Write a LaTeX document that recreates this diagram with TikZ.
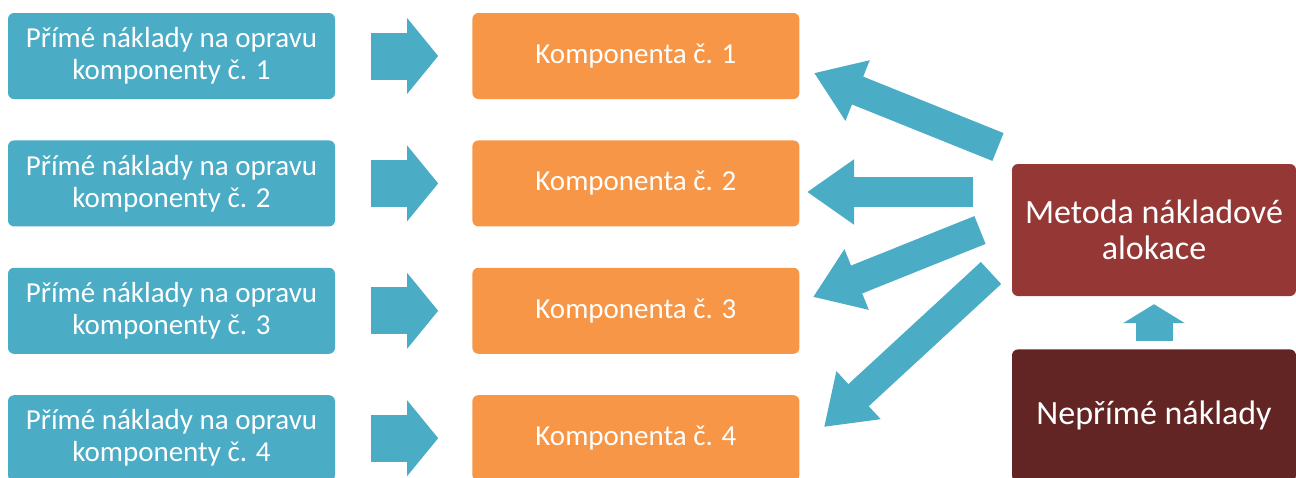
\documentclass[tikz,border=0pt]{standalone}
\usepackage{fontspec}
\setmainfont{Carlito}
\usetikzlibrary{arrows.meta, positioning}

\definecolor{costblue}{HTML}{4BACC6}
\definecolor{comporange}{HTML}{F79646}
\definecolor{methodred}{HTML}{953735}
\definecolor{indirectred}{HTML}{632523}

\begin{document}
\begin{tikzpicture}[
    x=1pt, y=-1pt,
    node distance=41pt and 137pt,
    font=\fontsize{29}{32}\selectfont,
    box/.style={rectangle, rounded corners=6pt, fill=costblue, text=white, minimum width=327pt, minimum height=86pt, text centered, align=center, inner sep=0pt},
    comp_box/.style={box, fill=comporange},
    method_box/.style={box, minimum width=284pt, minimum height=132pt, font=\fontsize{34}{36}\selectfont},
    flow/.style={draw=costblue, line width=47pt, shorten <=36pt, shorten >=34pt, -{Triangle[length=31pt, width=74pt]}},
    alloc/.style={draw=costblue, line width=30pt, -{Triangle[length=47pt, width=62pt]}},
    lift/.style={draw=costblue, line width=37pt, shorten <=8pt, shorten >=8pt, -{Triangle[length=19pt, width=61pt]}}
]
\useasboundingbox (0,0) rectangle (1296,477);

% Nodes
\node (direct1) [box] at (171.5,56) {Přímé náklady na opravu\\komponenty č. 1};
\node (direct2) [box, below=of direct1] {Přímé náklady na opravu\\komponenty č. 2};
\node (direct3) [box, below=of direct2] {Přímé náklady na opravu\\komponenty č. 3};
\node (direct4) [box, below=of direct3] {Přímé náklady na opravu\\komponenty č. 4};
\node (comp1) [comp_box, right=of direct1] {Komponenta č. 1};
\node (comp2) [comp_box, right=of direct2] {Komponenta č. 2};
\node (comp3) [comp_box, right=of direct3] {Komponenta č. 3};
\node (comp4) [comp_box, right=of direct4] {Komponenta č. 4};
\node (method) [method_box, fill=methodred] at (1154,230) {Metoda nákladové\\alokace};
\node (indirect) [method_box, fill=indirectred, below=53pt of method] {Nepřímé náklady};

% Arrow ends
\coordinate (out1) at (998,147);
\coordinate (in1) at (814,73);
\coordinate (out2) at (973,192);
\coordinate (in2) at (807,192);
\coordinate (out3) at (980,230);
\coordinate (in3) at (813,297);
\coordinate (out4) at (991,273);
\coordinate (in4) at (824,427);

% Paths
\draw [flow] (direct1) -- (comp1);
\draw [flow] (direct2) -- (comp2);
\draw [flow] (direct3) -- (comp3);
\draw [flow] (direct4) -- (comp4);
\draw [alloc] (out1) -- (in1);
\draw [alloc] (out2) -- (in2);
\draw [alloc] (out3) -- (in3);
\draw [alloc] (out4) -- (in4);
\draw [lift] (indirect) -- (method);

\end{tikzpicture}
\end{document}
